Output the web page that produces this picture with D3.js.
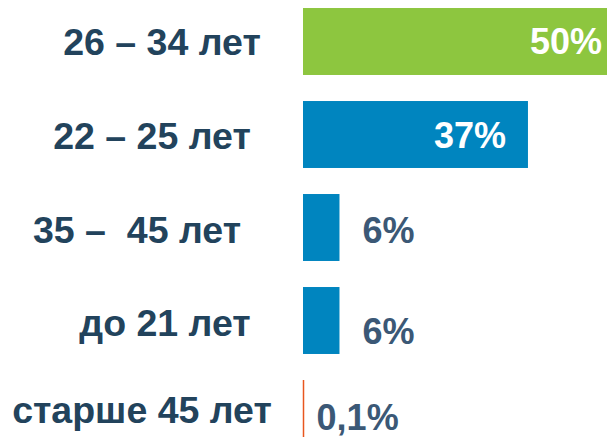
<!DOCTYPE html>
<html>
<head>
<meta charset="utf-8">
<script src="https://cdn.jsdelivr.net/npm/d3@7"></script>
<style>
  body { margin: 0; background: #fff; }
  svg { display: block; font-family: "Liberation Sans", Arial, sans-serif; font-weight: bold; }
  .cat { white-space: pre; }
</style>
</head>
<body>
<div id="age-chart"></div>
<script>
// data
var ageGroups = ["26 – 34 лет", "22 – 25 лет", "35 –  45 лет", "до 21 лет", "старше 45 лет"];
var shares = [50, 37, 6, 6, 0.1];
var shareLabels = ["50%", "37%", "6%", "6%", "0,1%"];

var width = 607;
var height = 437;

// label layout (centre of category labels, nudges of value labels)
var catCenter = [162, 152, 137, 165, 142];
var catDy = [0, 1, 2, 2, -4];
var valDx = [-5, -22, 23, 23, 13];
var valDy = [0, 1, 3, 11, 4];

var svg = d3.select("#age-chart")
    .append("svg")
    .attr("width", width)
    .attr("height", height);

var x = d3.scaleLinear()
    .domain([0, 50])
    .range([303, 607]);

var y = d3.scaleBand()
    .domain(ageGroups)
    .range([-5, 460])
    .paddingInner(0.28)
    .paddingOuter(0.14);

var rows = ageGroups.map(function (g, i) {
    return { group: g, value: shares[i], label: shareLabels[i], i: i };
});

// bars
svg.selectAll(".bar")
    .data(rows.filter(d => d.value >= 1))
    .join("rect")
    .attr("class", "bar")
    .attr("x", x(0))
    .attr("y", d => y(d.group))
    .attr("width", d => x(d.value) - x(0))
    .attr("height", y.bandwidth())
    .attr("fill", d => d.i == 0 ? "#8dc63f" : "#0085bf");

// tiny value shows as a line
svg.selectAll(".tiny")
    .data(rows.filter(d => d.value < 1))
    .join("line")
    .attr("class", "tiny")
    .attr("x1", x(0) + 0.5)
    .attr("x2", x(0) + 0.5)
    .attr("y1", d => y(d.group))
    .attr("y2", d => y(d.group) + y.bandwidth())
    .attr("stroke", "#e8561e")
    .attr("stroke-width", 1.5);

// category labels
svg.selectAll(".cat")
    .data(rows)
    .join("text")
    .attr("class", "cat")
    .attr("x", d => catCenter[d.i])
    .attr("y", d => y(d.group) + y.bandwidth() / 2 + catDy[d.i])
    .attr("text-anchor", "middle")
    .attr("dominant-baseline", "central")
    .attr("font-size", 37.5)
    .attr("fill", "#22435c")
    .text(d => d.group);

// value labels
svg.selectAll(".val")
    .data(rows)
    .join("text")
    .attr("class", "val")
    .attr("x", d => x(d.value) + valDx[d.i])
    .attr("y", d => y(d.group) + y.bandwidth() / 2 + valDy[d.i])
    .attr("text-anchor", d => d.value > 30 ? "end" : "start")
    .attr("dominant-baseline", "central")
    .attr("font-size", 36)
    .attr("fill", d => d.value > 30 ? "#ffffff" : "#3b5876")
    .text(d => d.label);
</script>
</body>
</html>
